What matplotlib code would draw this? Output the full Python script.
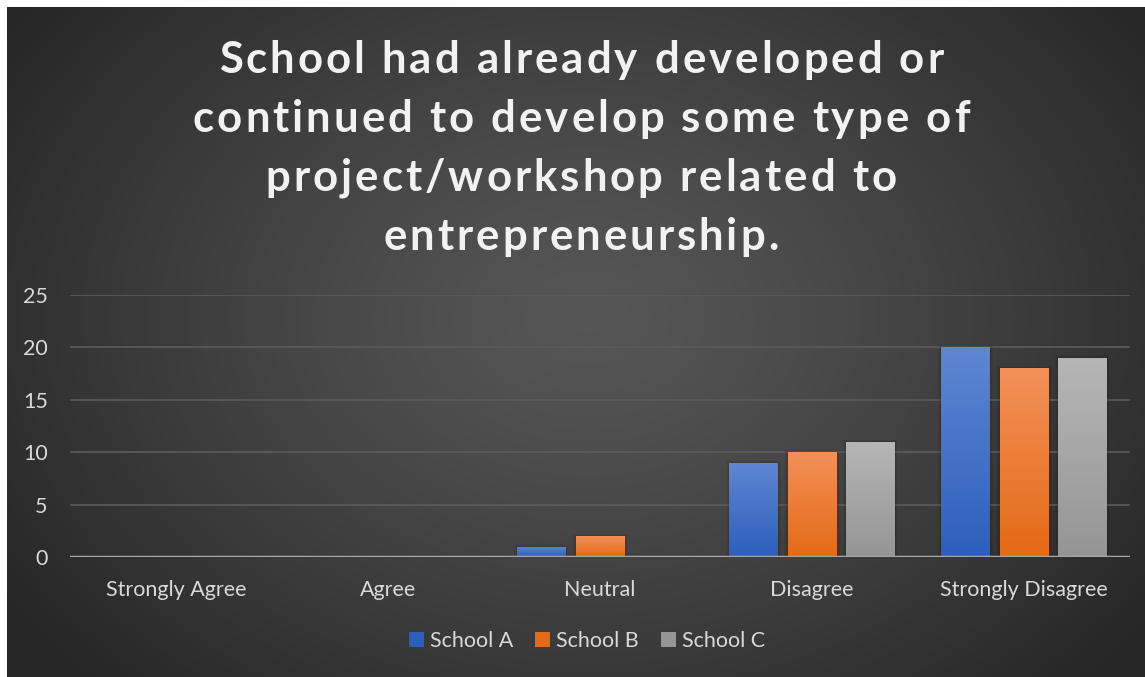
import numpy as np
import matplotlib
matplotlib.use("Agg")
import matplotlib.pyplot as plt
from matplotlib.patches import Patch, Rectangle
from matplotlib.colors import LinearSegmentedColormap
from matplotlib.font_manager import FontProperties

# survey responses per school
categories = ["Strongly Agree", "Agree", "Neutral", "Disagree", "Strongly Disagree"]
school_a = [0, 0, 1, 9, 20]
school_b = [0, 0, 2, 10, 18]
school_c = [0, 0, 0, 11, 19]
series_names = ["School A", "School B", "School C"]
y_ticks = [0, 5, 10, 15, 20, 25]

title_lines = ["School had already developed or",
               "continued to develop some type of",
               "project/workshop related to",
               "entrepreneurship."]

# (top, bottom) colours for the vertical bar gradients
bar_colors = [("#5f86d2", "#2c5fbd"), ("#f39059", "#e46a15"), ("#b6b6b6", "#959595")]
text_color = "#d9d9d9"
font = "Lato"

W, H = 1145, 677
fig = plt.figure(figsize=(W / 100, H / 100), dpi=100)
fig.patch.set_facecolor("white")

# radial gradient background of the chart area
bg = fig.add_axes([7 / W, 0, 1 - 7 / W, 1 - 7 / H])
bg.set_axis_off()
yy, xx = np.mgrid[0:670, 0:1138]
cx, cy = 580, 310
r = np.sqrt(((xx - cx) / 700.0) ** 2 + ((yy - cy) / 520.0) ** 2)
r = np.clip(r, 0, 1)
shade = 0.34 - 0.19 * r ** 1.2
bg.imshow(np.dstack([shade] * 3), aspect="auto", extent=[0, 1, 0, 1])
bg.set_xlim(0, 1)
bg.set_ylim(0, 1)

ax = fig.add_axes([70 / W, (H - 557) / H, 1060 / W, 262 / H])
ax.set_facecolor("none")

x = np.arange(len(categories))
width = 0.228
step = 0.276
for i, (vals, (top, bot)) in enumerate(zip([school_a, school_b, school_c], bar_colors)):
    bars = ax.bar(x + (i - 1) * step, vals, width, color=bot, zorder=3)
    cmap = LinearSegmentedColormap.from_list("g%d" % i, [bot, top])
    for b in bars:
        h = b.get_height()
        if h <= 0:
            continue
        x0, w = b.get_x(), b.get_width()
        # soft shadow around the bar
        for k in range(1, 5):
            pad = 0.004 * k
            ax.add_patch(Rectangle((x0 - pad, 0), w + 2 * pad, h + pad * 12,
                                   color="black", alpha=0.04, lw=0, zorder=2))
        grad = np.linspace(0, 1, 100).reshape(-1, 1)
        im = ax.imshow(grad, cmap=cmap, origin="lower", aspect="auto",
                       extent=[x0, x0 + w, 0, h], zorder=4)
        im.set_clip_path(b)

ax.set_xlim(-0.5, len(categories) - 0.5)
ax.set_ylim(0, 25)
ax.set_yticks(y_ticks)
ax.set_xticks(x)
ax.set_xticklabels(categories)
ax.tick_params(length=0, colors=text_color, labelsize=15.5)
ax.tick_params(axis="y", pad=16)
ax.tick_params(axis="x", pad=16.5)
for lab in ax.get_xticklabels() + ax.get_yticklabels():
    lab.set_fontfamily(font)
ax.grid(axis="y", color="#5c5c5c", lw=1.2, zorder=1)
for s in ax.spines.values():
    s.set_visible(False)
ax.axhline(0, color="#a6a6a6", lw=2.5, zorder=5)

# title with letter spacing, drawn character by character
renderer = fig.canvas.get_renderer()
tprop = FontProperties(family=font, weight="bold", size=31.5)
spacing = 3.0          # extra pixels between letters
word_gap = 0.5         # extra pixels for each space
baselines = [73, 132, 191, 250]
center_x = 581


def adv(s):
    return renderer.get_text_width_height_descent(s, tprop, ismath=False)[0] if s else 0.0


for line, base in zip(title_lines, baselines):
    def offset(j):
        return adv(line[:j]) + spacing * j + word_gap * line[:j].count(" ")
    total = offset(len(line)) - spacing
    left = center_x - total / 2
    for j, ch in enumerate(line):
        if ch == " ":
            continue
        fig.text((left + offset(j)) / W, 1 - base / H, ch, ha="left", va="baseline",
                 color="#f2f2f2", fontproperties=tprop)

handles = [Patch(facecolor=c[1], edgecolor="none") for c in bar_colors]
fig.legend(handles, series_names, loc="center", bbox_to_anchor=(587 / W, 1 - 641 / H),
           ncol=3, frameon=False, prop={"family": font, "size": 15.5},
           labelcolor=text_color, handlelength=0.7, handleheight=0.7,
           handletextpad=0.3, columnspacing=1.0)

fig.savefig("out.png", dpi=100, facecolor=fig.get_facecolor())
